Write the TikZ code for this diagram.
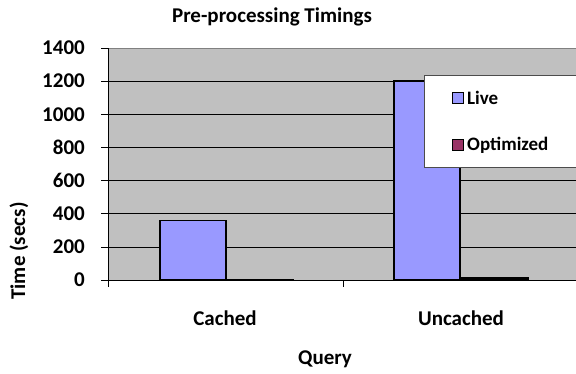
\documentclass[tikz,border=0pt]{standalone}
\usepackage{fontspec}
\setmainfont{Carlito}
\definecolor{plotbg}{HTML}{C0C0C0}
\definecolor{livecol}{HTML}{9999FF}
\definecolor{optcol}{HTML}{993366}
\begin{document}
\begin{tikzpicture}[
  x=1pt, y=-1pt,
  lbl/.style={font=\fontsize{21}{24}\selectfont\bfseries, inner sep=0pt},
  leglbl/.style={font=\fontsize{19}{22}\selectfont\bfseries, inner sep=0pt, anchor=west},
  bar/.style={draw=black, line width=1.8pt},
  legkey/.style={draw=black, line width=1.4pt, minimum size=11pt, inner sep=0pt},
  grid line/.style={line width=0.7pt, black}
]
\useasboundingbox (0,0) rectangle (576,373);

% Plot area
\fill[plotbg] (108,48) rectangle (576,280);
\foreach \i in {1,...,6} {
  \pgfmathsetmacro\gy{280-\i*232/7}
  \draw[grid line] (108,\gy) -- (576,\gy);
}
\draw[line width=0.8pt, gray] (108,48) -- (576,48);

% Axis and ticks
\foreach \i in {0,...,7} {
  \pgfmathsetmacro\gy{280-\i*232/7}
  \pgfmathtruncatemacro\val{200*\i}
  \draw[line width=0.7pt] (101,\gy) -- (108,\gy);
  \node[lbl, anchor=east] (tick\i) at (85,\gy) {\val};
}
\draw[line width=0.9pt] (108,48) -- (108,287);
\draw[line width=0.9pt] (108,280) -- (576,280);
\draw[line width=0.7pt] (343,280) -- (343,287);

% Bars
\draw[bar, fill=livecol] (160,280) rectangle (226,220.5);
\draw[bar, fill=optcol] (226,280) rectangle (293,279.6);
\draw[bar, fill=livecol] (394,280) rectangle (460,81);
\draw[bar, fill=optcol] (460,280) rectangle (528,278.2);

% Legend
\draw[fill=white, line width=0.8pt, draw=gray!60!black] (424,75) rectangle (580,167);
\node[legkey, fill=livecol] (keylive) at (458,98) {};
\node[leglbl] (leglive) at (467,98) {Live};
\node[legkey, fill=optcol] (keyopt) at (458,145) {};
\node[leglbl] (legopt) at (467,145) {Optimized};

% Titles
\node[lbl] (title) at (272,17) {Pre-processing Timings};
\node[lbl] (cached) at (225,318) {Cached};
\node[lbl] (uncached) at (461,318) {Uncached};
\node[lbl] (query) at (325,359) {Query};
\node[lbl, rotate=90] (ylabel) at (19,251) {Time (secs)};

\end{tikzpicture}
\end{document}
